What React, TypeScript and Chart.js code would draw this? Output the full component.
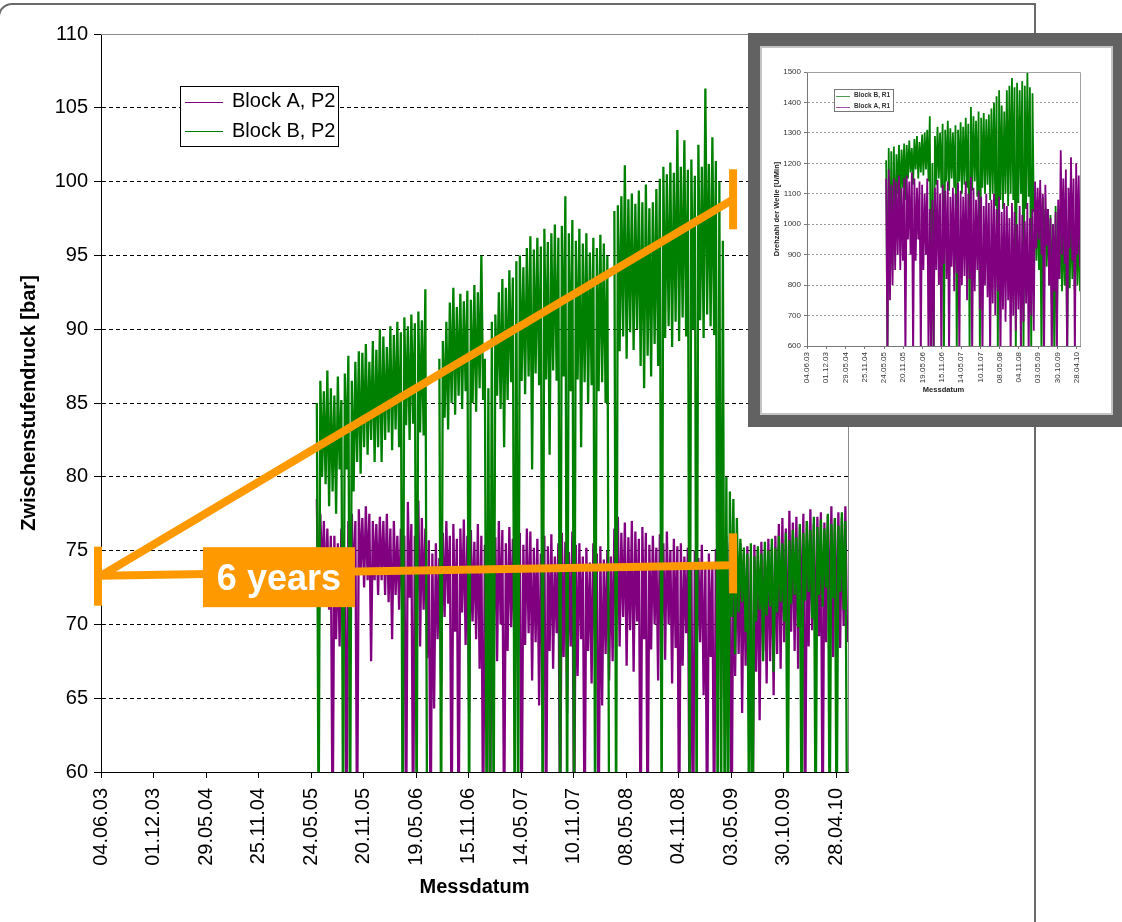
import React, { useEffect, useRef } from "react";
import { Chart, registerables } from "chart.js";
Chart.register(...registerables);

const FONT = "'Liberation Sans', Arial, Helvetica, sans-serif";

// ---------- shared axis data ----------
const xTickLabels = ["04.06.03","01.12.03","29.05.04","25.11.04","24.05.05","20.11.05","19.05.06","15.11.06","14.05.07","10.11.07","08.05.08","04.11.08","03.05.09","30.10.09","28.04.10"];
const tickStepDays = 180; // days between labelled ticks (day 0 = 04.06.03)

// ---------- main chart data (12-day bins from day 740; high / low of each bin) ----------
const mainStartDay = 740;
const mainBinDays = 12;
const mainMaxDay = 2561;
const mainYTicks = [60, 65, 70, 75, 80, 85, 90, 95, 100, 105, 110];
const mainSeriesNames = ["Block A, P2", "Block B, P2"];

const blockBHigh: (number | null)[] = [
  85, 86.5, 85.8, 87.2, 86, 85.5, 86.8, 85.2, 87, 88.2,
  86.5, 87.8, 88.5, 88.4, 89, 87.8, 89.2, 88.6, 90, 89.5,
  88.8, 90.2, 89.6, 90.5, 89.8, 90.8, 90.2, 91, 90.4, 91.2,
  90.6, 92.7, null, null, null, 88, 89.2, 90.5, 91.8, 92.8,
  91.5, 92.4, 91.9, 92.6, 92, 93, 92.5, 95, 88, 86,
  90.5, 91, 92.5, 93.4, 92.8, 94, 93.5, 94.6, 95, 94.2,
  95.5, 96.3, 95.4, 96.2, 95.6, 96.8, 95.9, 96.5, 97.1, 96.2,
  97, 99, 96.5, 97.4, 96, 96.8, 95.8, 96.5, 95.2, 96.2,
  95.5, 96.4, 95.8, 95, null, 98, 98.4, 99, 101.1, 98.8,
  99.2, 98.5, 99.4, 98.6, 99.8, 98.2, 98.6, 99.5, 100.2, 101,
  100.5, 101.3, 100.6, 103.5, 101, 102.8, 100.8, 101.5, 100.4, 102.5,
  101, 106.3, 101.2, 103, 101.4, 100, 96, 80, 79, 78.5,
  77.2, 75.8, 75.2, 74.8, 75.5, 74.6, 75.3, 74.8, 75.6, 75,
  75.8, 75.2, 76, 75.5, 76.2, 75.7, 76.4, 75.9, 76.8, 76.2,
  77, 76.4, 77.3, 76.6, 77.1, 76.5, 77.5, 76.8, 77.2, 76.7,
  77.6, 77,
];
const blockBLow: (number | null)[] = [
  55, 80, 79.5, 78, 79, 77.5, 80.5, 55, 80.5, 55,
  79, 81, 80.2, 82, 81.5, 82.5, 81, 82, 81, 82.5,
  83, 81.8, 83.2, 82, 55, 83.5, 82.5, 83.6, 55, 83,
  82.8, 55, null, null, null, 55, 84, 83.2, 85, 84.2,
  85.5, 84.6, 85.8, 55, 85, 84.4, 86, 85.2, 55, 55,
  55, 85.5, 84.6, 82, 85.2, 86.4, 55, 55, 86.5, 85.6,
  86.8, 80.5, 87, 86.2, 55, 86.6, 81.5, 87.2, 86.5, 55,
  86.8, 55, 85.8, 55, 86.6, 82, 86.4, 85, 86.2, 55,
  85.8, 86.4, 85, 55, null, 55, 88.5, 89.5, 88, 89.8,
  88.6, 90, 87.5, 86, 88.2, 86.8, 89, 87.5, 55, 89.4,
  90.2, 88.8, 90.5, 89.2, 90.8, 89.5, 55, 90, 55, 90.6,
  89.4, 91, 90.2, 89.6, 55, 55, 55, 55, 70.5, 68,
  70.8, 71.5, 69.5, 55, 55, 70.2, 71, 67.5, 70.6, 71.2,
  66.8, 70.8, 71.5, 70.2, 55, 71.4, 72, 69.8, 55, 71.6,
  72.2, 70.4, 55, 72, 71.2, 72.5, 55, 71.8, 55, 72.2,
  71, 55,
];
const blockAHigh: (number | null)[] = [
  78.5, 77.5, 77, 76.5, 76, 76, 75.5, 76.5, 75, 77,
  77.5, 77, 77.8, 77.2, 78, 77.5, 77, 76.8, 77.3, 77,
  77.5, 76.5, 77, 76, 76.5, 76, 78.3, 76.8, 76, 78.4,
  77.2, 76.5, 75.7, 74.8, 75.5, 74.5, 76.2, 77, 76, 76.8,
  75.8, 76.5, 77.1, 76, 76.4, 75.6, 76.8, 76, 75.4, 76.2,
  76.8, 75.9, 77, 76.4, 75.5, 76.6, 75.8, 76.9, 76.2, 75.4,
  76.5, 76.3, 75.2, 75.8, 74.8, 76, 75.3, 76.1, 74.6, 75.5,
  76.2, 75.6, 74.9, 76.3, 75.4, 75.5, 74.6, 75.2, 74.2, 75.5,
  74.8, 75.3, 74.4, 75, 74.6, 76.5, 77.3, 76.2, 76.9, 75.9,
  77, 76.3, 75.8, 76.6, 76.2, 75.4, 76, 75.2, 76.1, 75.5,
  76.3, 75, 75.8, 75.3, 75.5, 74.6, 75.2, 74.2, 75, 74.5,
  75.4, 74.2, 74.8, 74, 75.1, 74.5, 75.8, 76, 75.5, 76.2,
  75.1, 75.5, 74.8, 75.3, 74.6, 75.4, 75, 75.6, 74.9, 75.8,
  75.2, 76, 76.8, 77.2, 76.5, 77.7, 76.9, 77.3, 76.6, 77.5,
  77, 77.8, 76.8, 77.3, 77.6, 76.9, 77.4, 78, 77.1, 77.6,
  77.2, 78,
];
const blockALow: (number | null)[] = [
  68, 73, 72, 71, 55, 69, 68.5, 70, 55, 73,
  72, 55, 73.5, 72.5, 73, 67.5, 73, 72, 73, 72,
  71.5, 69, 72, 71, 70.5, 55, 71.8, 55, 70.5, 68.5,
  71, 67.7, 55, 64.3, 69, 66, 70.5, 71.4, 55, 69.5,
  55, 70.8, 68.6, 64, 70.2, 69, 67, 55, 68.6, 55,
  69.5, 67.5, 70, 55, 68.2, 69.8, 67, 70.2, 55, 68.6,
  69.4, 66.2, 68.8, 64.5, 69.5, 55, 68.2, 67, 69.4, 55,
  67.8, 64, 68.5, 55, 66.5, 69, 55, 68.2, 66, 68.8,
  55, 64.5, 68, 66.2, 67.5, 70, 68.5, 70.5, 67.2, 69.6,
  66.8, 70.2, 55, 69, 55, 68.3, 70, 66.2, 69.2, 67.6,
  70, 66, 68.4, 55, 67.2, 69.4, 55, 55, 67.5, 68.8,
  65.2, 55, 67.8, 55, 68.2, 65, 67.4, 64.2, 55, 66.5,
  68, 64, 67.2, 65.5, 55, 66.8, 63.5, 68.2, 66, 67.5,
  65.2, 68, 67, 68.8, 66.4, 69.5, 68.2, 67, 69.8, 55,
  68.5, 69.6, 67.4, 69.2, 55, 68.8, 69.5, 67.8, 69, 68.4,
  69.9, 68.8,
];

// ---------- annotation (orange "6 years" marks) ----------
const spanStartDay = 0;
const spanEndDay = 2167;
const spanStartValue = 73.3;
const spanFlatEndValue = 74.0;
const spanRiseEndValue = 98.8;
const spanLabel = "6 years";
const spanLabelDay = 610;
const spanLabelValue = 73.2;
const ORANGE = "#FF9900";

// ---------- inset chart data (24-day bins from day 740) ----------
const insetStartDay = 740;
const insetBinDays = 24;
const insetMaxDay = 2552;
const insetYTicks = [600, 700, 800, 900, 1000, 1100, 1200, 1300, 1400, 1500];
const insetSeriesNames = ["Block B, R1", "Block A, R1"];

const insetBHigh: (number | null)[] = [
  1210, 1250, 1240, 1255, 1230, 1260, 1245, 1265, 1260, 1275,
  1250, 1280, 1290, 1270, 1295, 1300, 1310, 1355, 1200, 1290,
  1320, 1300, 1330, 1310, 1340, 1315, 1300, 1325, 1310, 1335,
  1320, 1350, 1330, 1385, 1355, 1340, 1370, 1350, 1365, 1345,
  1360, 1380, 1400, 1420, 1440, 1390, 1370, 1440, 1455, 1480,
  1450, 1465, 1440, 1470, 1455, 1500, 1450, 1430, 1100, 1080,
  1060, 1090, 1050, 1050, 1030, 1000, 1060, 1050, 1020, 1000,
  1040, 1010, 1050, 990, 1030, 1000,
];
const insetBLow: (number | null)[] = [
  550, 880, 850, 900, 1100, 1050, 1120, 1080, 1150, 1170,
  1130, 1180, 1150, 1170, 1160, 1180, 1140, 550, 550, 1130,
  1150, 1120, 550, 1140, 1110, 1150, 1120, 550, 1140, 1100,
  1130, 1120, 550, 1110, 1140, 1090, 550, 1120, 1100, 1130,
  1080, 1100, 1060, 550, 1080, 1050, 1100, 1060, 1100, 1080,
  550, 1070, 1100, 550, 1050, 1090, 550, 1040, 880, 850,
  550, 900, 860, 800, 750, 550, 650, 820, 780, 800,
  550, 790, 820, 770, 800, 780,
];
const insetAHigh: (number | null)[] = [
  1150, 1180, 1130, 1150, 1140, 1160, 1120, 1150, 1160, 1140,
  1170, 1150, 1120, 1140, 1130, 1100, 1150, 1050, 1080, 1120,
  1145, 1100, 1130, 1110, 1140, 1090, 1120, 1100, 1135, 1110,
  1090, 1140, 1100, 1155, 1120, 1080, 1110, 1090, 1060, 1100,
  1070, 1080, 1100, 1050, 1090, 1040, 1070, 1060, 1020, 1070,
  1040, 1000, 1060, 1030, 1010, 1070, 1020, 1050, 1140, 1120,
  1145, 1100, 1130, 1050, 1020, 1000, 1040, 1080, 1243, 1150,
  1180, 1120, 1220, 1150, 1200, 1160,
];
const insetALow: (number | null)[] = [
  550, 750, 800, 850, 900, 850, 880, 550, 950, 900,
  550, 880, 950, 550, 850, 900, 550, 550, 600, 850,
  800, 550, 870, 820, 550, 860, 780, 840, 550, 800,
  830, 750, 820, 550, 780, 850, 720, 550, 800, 760,
  550, 740, 700, 780, 550, 720, 680, 750, 550, 700,
  650, 720, 550, 680, 740, 550, 700, 650, 920, 950,
  900, 550, 930, 800, 550, 780, 550, 820, 900, 870,
  550, 920, 880, 550, 900, 860,
];

const PURPLE = "#800080";
const GREEN = "#008000";

function buildPoints(start: number, bin: number, hi: (number | null)[], lo: (number | null)[]) {
  const pts: { x: number; y: number | null }[] = [];
  hi.forEach((h, i) => {
    const x = start + i * bin;
    const l = lo[i];
    if (h === null || l === null) {
      pts.push({ x, y: null });
      return;
    }
    pts.push({ x, y: h });
    pts.push({ x: x + bin / 2, y: l });
  });
  return pts;
}

type LegendItem = { label: string; color: string };
function drawLegendBox(
  ctx: CanvasRenderingContext2D,
  box: { x: number; y: number; w: number; h: number },
  items: LegendItem[],
  o: { border: string; firstRow: number; rowGap: number; lineStart: number; lineEnd: number; textStart: number; font: string; textColor: string }
) {
  ctx.save();
  ctx.fillStyle = "#fff";
  ctx.fillRect(box.x, box.y, box.w, box.h);
  ctx.strokeStyle = o.border;
  ctx.lineWidth = 1;
  ctx.strokeRect(box.x + 0.5, box.y + 0.5, box.w - 1, box.h - 1);
  items.forEach((it, k) => {
    const yy = box.y + o.firstRow + k * o.rowGap;
    ctx.strokeStyle = it.color;
    ctx.lineWidth = 1;
    ctx.beginPath();
    ctx.moveTo(box.x + o.lineStart, Math.round(yy) + 0.5);
    ctx.lineTo(box.x + o.lineEnd, Math.round(yy) + 0.5);
    ctx.stroke();
    ctx.fillStyle = o.textColor;
    ctx.font = o.font;
    ctx.textBaseline = "middle";
    ctx.textAlign = "left";
    ctx.fillText(it.label, box.x + o.textStart, yy);
  });
  ctx.restore();
}

const mainOverlay = {
  id: "mainOverlay",
  afterDraw(chart: any) {
    const { ctx, chartArea: a, scales } = chart;
    const xs = scales.x;
    const ys = scales.y;
    ctx.save();
    // plot area top / right border
    ctx.strokeStyle = "#8a8a8a";
    ctx.lineWidth = 1;
    ctx.beginPath();
    ctx.moveTo(a.left, Math.round(a.top) + 0.5);
    ctx.lineTo(Math.round(a.right) + 0.5, Math.round(a.top) + 0.5);
    ctx.lineTo(Math.round(a.right) + 0.5, a.bottom);
    ctx.stroke();

    drawLegendBox(
      ctx,
      { x: a.left + 79, y: a.top + 52, w: 159, h: 61 },
      [
        { label: mainSeriesNames[0], color: PURPLE },
        { label: mainSeriesNames[1], color: GREEN },
      ],
      { border: "#000", firstRow: 15.5, rowGap: 29.5, lineStart: 5, lineEnd: 43, textStart: 52, font: `20px ${FONT}`, textColor: "#000" }
    );

    // orange annotation
    const x0 = xs.getPixelForValue(spanStartDay);
    const y0 = ys.getPixelForValue(spanStartValue);
    const x1 = xs.getPixelForValue(spanEndDay);
    const yFlat = ys.getPixelForValue(spanFlatEndValue);
    const yRise = ys.getPixelForValue(spanRiseEndValue);
    ctx.strokeStyle = ORANGE;
    ctx.lineWidth = 8;
    ctx.lineCap = "butt";
    ctx.beginPath();
    ctx.moveTo(x0, y0);
    ctx.lineTo(x1, yRise);
    ctx.stroke();
    ctx.beginPath();
    ctx.moveTo(x0, y0);
    ctx.lineTo(x1, yFlat);
    ctx.stroke();
    ctx.fillStyle = ORANGE;
    ctx.fillRect(x0 - 7, y0 - 29, 8, 59);
    ctx.fillRect(x1 - 4, yFlat - 32, 8, 60);
    ctx.fillRect(x1 - 4, yRise - 30, 8, 60);
    const lx = xs.getPixelForValue(spanLabelDay);
    const ly = ys.getPixelForValue(spanLabelValue);
    ctx.fillRect(lx - 76, ly - 30, 152, 60);
    ctx.fillStyle = "#fff";
    ctx.font = `bold 36px ${FONT}`;
    ctx.textAlign = "center";
    ctx.textBaseline = "alphabetic";
    ctx.fillText(spanLabel, lx, ly + 13);
    ctx.restore();
  },
};

const insetOverlay = {
  id: "insetOverlay",
  afterDraw(chart: any) {
    const { ctx, chartArea: a } = chart;
    ctx.save();
    ctx.strokeStyle = "#a0a0a0";
    ctx.lineWidth = 1;
    ctx.beginPath();
    ctx.moveTo(a.left, Math.round(a.top) + 0.5);
    ctx.lineTo(Math.round(a.right) + 0.5, Math.round(a.top) + 0.5);
    ctx.lineTo(Math.round(a.right) + 0.5, a.bottom);
    ctx.stroke();
    drawLegendBox(
      ctx,
      { x: a.left + 27, y: a.top + 17, w: 60, h: 23 },
      [
        { label: insetSeriesNames[0], color: "#4f9a4f" },
        { label: insetSeriesNames[1], color: "#a050a0" },
      ],
      { border: "#777", firstRow: 6.5, rowGap: 11, lineStart: 2, lineEnd: 16, textStart: 20, font: `bold 6.5px ${FONT}`, textColor: "#333" }
    );
    ctx.restore();
  },
};

function MainChart() {
  const ref = useRef<HTMLCanvasElement | null>(null);
  useEffect(() => {
    if (!ref.current) return;
    const chart = new Chart(ref.current, {
      type: "line",
      data: {
        datasets: [
          {
            label: mainSeriesNames[1],
            data: buildPoints(mainStartDay, mainBinDays, blockBHigh, blockBLow) as any,
            borderColor: GREEN,
            borderWidth: 2.3,
            borderJoinStyle: "bevel",
            pointRadius: 0,
            spanGaps: false,
          },
          {
            label: mainSeriesNames[0],
            data: buildPoints(mainStartDay, mainBinDays, blockAHigh, blockALow) as any,
            borderColor: PURPLE,
            borderWidth: 2.3,
            borderJoinStyle: "bevel",
            pointRadius: 0,
            spanGaps: false,
          },
        ],
      },
      options: {
        responsive: false,
        animation: false,
        devicePixelRatio: 1,
        layout: { padding: { left: 0, top: 34, right: 274, bottom: 0 } },
        plugins: { legend: { display: false }, tooltip: { enabled: false } },
        elements: { line: { tension: 0 }, point: { radius: 0 } },
        scales: {
          x: {
            type: "linear",
            min: 0,
            max: mainMaxDay,
            afterBuildTicks: (s: any) => {
              s.ticks = xTickLabels.map((_, i) => ({ value: i * tickStepDays }));
            },
            afterFit: (s: any) => {
              s.height = 150;
            },
            ticks: {
              autoSkip: false,
              minRotation: 90,
              maxRotation: 90,
              padding: 10,
              color: "#000",
              font: { family: FONT, size: 20 },
              callback: (_v: any, i: number) => xTickLabels[i],
            },
            grid: { drawOnChartArea: false, drawTicks: true, tickLength: 6, color: "#000" },
            border: { color: "#000", width: 1 },
            title: {
              display: true,
              text: "Messdatum",
              color: "#000",
              font: { family: FONT, size: 20, weight: "bold" },
              padding: { top: 0, bottom: 23 },
            },
          },
          y: {
            type: "linear",
            min: 60,
            max: 110,
            afterBuildTicks: (s: any) => {
              s.ticks = mainYTicks.map((v) => ({ value: v }));
            },
            afterFit: (s: any) => {
              s.width = 101;
            },
            ticks: { color: "#000", padding: 6, font: { family: FONT, size: 20 }, callback: (v: any) => String(v) },
            grid: {
              color: (c: any) => (c.tick && c.tick.value === 110 ? "rgba(0,0,0,0)" : "#000"),
              tickColor: "#000",
              tickLength: 7,
              lineWidth: 1,
            },
            border: { color: "#000", width: 1, dash: [4, 3] },
            title: {
              display: true,
              text: "Zwischenstufendruck [bar]",
              color: "#000",
              font: { family: FONT, size: 20, weight: "bold" },
              padding: { top: 17, bottom: 0 },
            },
          },
        },
      } as any,
      plugins: [mainOverlay],
    });
    return () => chart.destroy();
  }, []);
  return <canvas ref={ref} width={1122} height={922} style={{ position: "absolute", left: 0, top: 0, width: 1122, height: 922 }} />;
}

function InsetChart() {
  const ref = useRef<HTMLCanvasElement | null>(null);
  useEffect(() => {
    if (!ref.current) return;
    const chart = new Chart(ref.current, {
      type: "line",
      data: {
        datasets: [
          {
            label: insetSeriesNames[1],
            data: buildPoints(insetStartDay, insetBinDays, insetAHigh, insetALow) as any,
            borderColor: PURPLE,
            borderWidth: 1.8,
            borderJoinStyle: "bevel",
            pointRadius: 0,
          },
          {
            label: insetSeriesNames[0],
            data: buildPoints(insetStartDay, insetBinDays, insetBHigh, insetBLow) as any,
            borderColor: GREEN,
            borderWidth: 1.8,
            borderJoinStyle: "bevel",
            pointRadius: 0,
          },
        ],
      },
      options: {
        responsive: false,
        animation: false,
        devicePixelRatio: 1,
        layout: { padding: { left: 0, top: 25, right: 31, bottom: 0 } },
        plugins: { legend: { display: false }, tooltip: { enabled: false } },
        elements: { line: { tension: 0 }, point: { radius: 0 } },
        scales: {
          x: {
            type: "linear",
            min: 0,
            max: insetMaxDay,
            afterBuildTicks: (s: any) => {
              s.ticks = xTickLabels.map((_, i) => ({ value: i * tickStepDays }));
            },
            afterFit: (s: any) => {
              s.height = 67;
            },
            ticks: {
              autoSkip: false,
              minRotation: 90,
              maxRotation: 90,
              padding: 3,
              color: "#333",
              font: { family: FONT, size: 8 },
              callback: (_v: any, i: number) => xTickLabels[i],
            },
            grid: { drawOnChartArea: false, drawTicks: true, tickLength: 3, color: "#777" },
            border: { color: "#777", width: 1 },
            title: {
              display: true,
              text: "Messdatum",
              color: "#222",
              font: { family: FONT, size: 7.5, weight: "bold" },
              padding: { top: 0, bottom: 19 },
            },
          },
          y: {
            type: "linear",
            min: 600,
            max: 1500,
            afterBuildTicks: (s: any) => {
              s.ticks = insetYTicks.map((v) => ({ value: v }));
            },
            afterFit: (s: any) => {
              s.width = 46;
            },
            ticks: { color: "#333", padding: 3, font: { family: FONT, size: 8 }, callback: (v: any) => String(v) },
            grid: {
              color: (c: any) => (c.tick && c.tick.value === 1500 ? "rgba(0,0,0,0)" : "#999"),
              tickColor: "#777",
              tickLength: 3,
              lineWidth: 1,
            },
            border: { color: "#777", width: 1, dash: [2, 2] },
            title: {
              display: true,
              text: "Drehzahl der Welle [U/Min]",
              color: "#222",
              font: { family: FONT, size: 7.5, weight: "bold" },
              padding: { top: 11, bottom: 0 },
            },
          },
        },
      } as any,
      plugins: [insetOverlay],
    });
    return () => chart.destroy();
  }, []);
  return <canvas ref={ref} width={350} height={366} style={{ position: "absolute", left: 761, top: 47, width: 350, height: 366 }} />;
}

export default function App() {
  return (
    <div style={{ position: "absolute", left: 0, top: 0, width: 1122, height: 922, overflow: "hidden", background: "#fff" }}>
      <div
        style={{
          position: "absolute",
          left: -2,
          top: 3,
          width: 1038,
          height: 935,
          boxSizing: "border-box",
          border: "2px solid #6a6a6a",
          borderRadius: "14px 0 0 14px",
        }}
      />
      <MainChart />
      <div style={{ position: "absolute", left: 748, top: 33, width: 380, height: 394, background: "#626262" }} />
      <div
        style={{
          position: "absolute",
          left: 760,
          top: 46,
          width: 353,
          height: 369,
          boxSizing: "border-box",
          background: "#fff",
          border: "2px solid #c4c4c4",
        }}
      />
      <InsetChart />
    </div>
  );
}
